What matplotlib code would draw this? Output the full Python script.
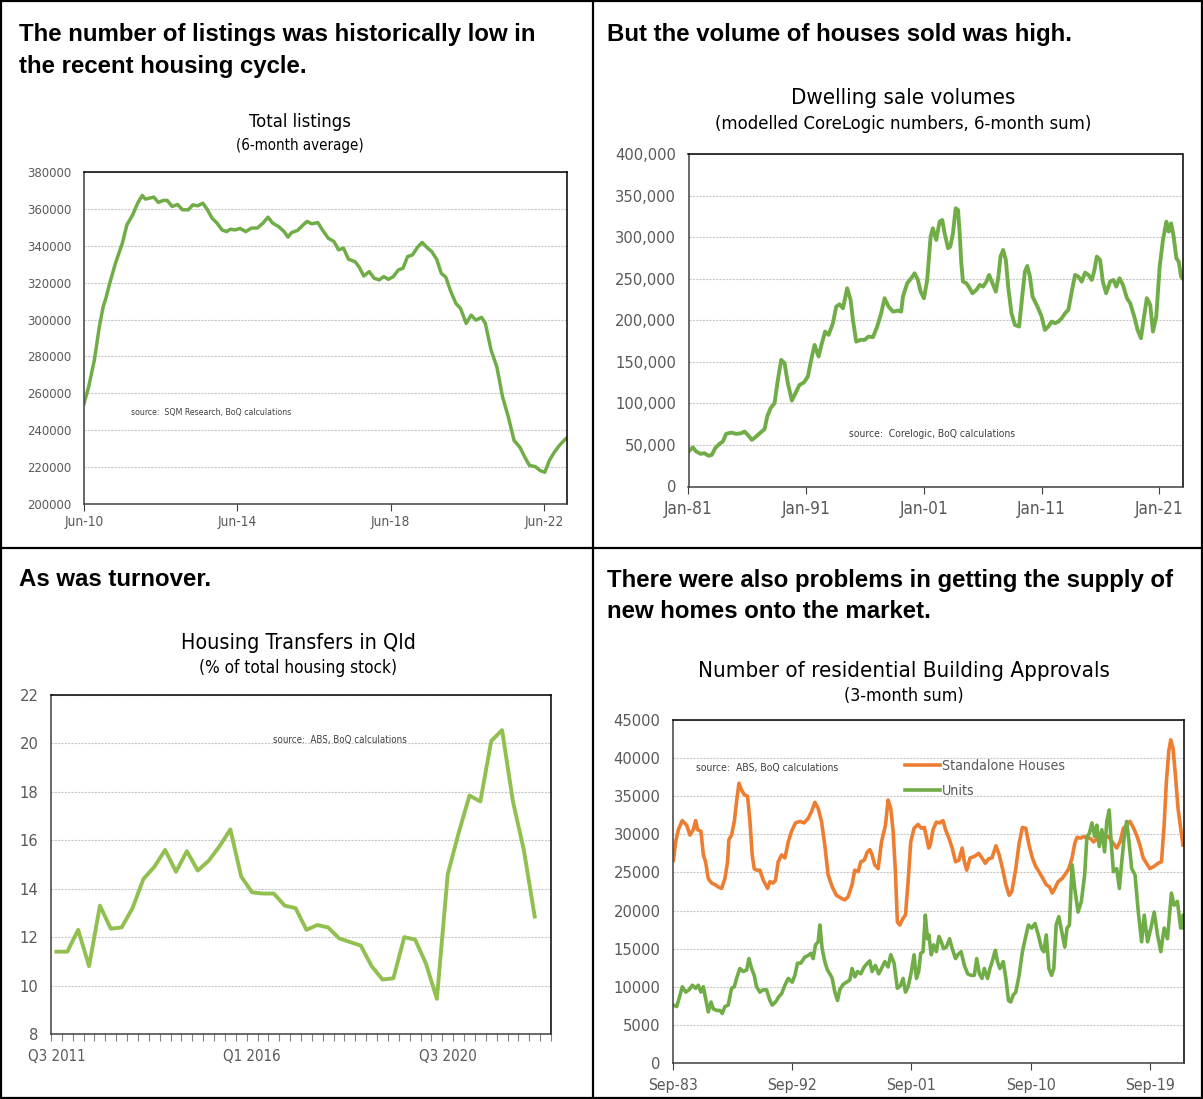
import matplotlib
matplotlib.use("Agg")
import matplotlib.pyplot as plt
from matplotlib.lines import Line2D
from matplotlib.patches import Rectangle
from matplotlib.ticker import FuncFormatter, MultipleLocator

W, H = 1203, 1099
NARROW = "DejaVu Sans"
BOLD = ["Liberation Sans", "DejaVu Sans"]
GREEN = "#70AD47"
LIGHT_GREEN = "#92C050"
ORANGE = "#ED7D31"
TICK_GREY = "#595959"
GRID_GREY = "#c8c8c8"

# --- Total listings (6-month average), decimal year
listings_year = [2010.42, 2010.54, 2010.69, 2010.82, 2010.92, 2010.99, 2011.09, 2011.24, 2011.42, 2011.54,
                 2011.69, 2011.82, 2011.94, 2012.02, 2012.14, 2012.24, 2012.36, 2012.49, 2012.59, 2012.72,
                 2012.86, 2012.99, 2013.14, 2013.26, 2013.39, 2013.52, 2013.64, 2013.76, 2013.89, 2014.02,
                 2014.14, 2014.24, 2014.36, 2014.49, 2014.64, 2014.79, 2014.94, 2015.09, 2015.22, 2015.34,
                 2015.49, 2015.64, 2015.74, 2015.84, 2015.99, 2016.14, 2016.24, 2016.36, 2016.52, 2016.64,
                 2016.79, 2016.94, 2017.06, 2017.19, 2017.32, 2017.49, 2017.59, 2017.72, 2017.86, 2017.99,
                 2018.12, 2018.24, 2018.36, 2018.49, 2018.62, 2018.74, 2018.86, 2018.99, 2019.12, 2019.24,
                 2019.36, 2019.49, 2019.62, 2019.74, 2019.86, 2019.99, 2020.12, 2020.24, 2020.39, 2020.52,
                 2020.64, 2020.79, 2020.89, 2021.04, 2021.19, 2021.34, 2021.49, 2021.64, 2021.79, 2021.92,
                 2022.04, 2022.19, 2022.32, 2022.44, 2022.56, 2022.69, 2022.82, 2022.94, 2023.02]
listings = [254400, 263400, 278000, 296100, 307000, 311500, 319600, 330500, 341400, 351400,
            356800, 363100, 367300, 365300, 365900, 366400, 363500, 364600, 364600, 361300,
            362400, 359500, 359500, 362200, 361700, 363100, 359500, 355000, 352300, 348600,
            347700, 349000, 348600, 349400, 347700, 349600, 349600, 352300, 355500, 352300,
            350500, 347700, 344700, 347200, 348300, 351400, 353200, 351900, 352600, 348600,
            344100, 342300, 337800, 338700, 332700, 331400, 328700, 323600, 326000, 322400,
            321500, 323300, 321800, 323300, 326900, 327800, 334100, 335100, 339200, 341800,
            339200, 336900, 332700, 325100, 322900, 315100, 308800, 306100, 297900, 302400,
            299700, 301200, 297900, 283400, 274300, 258000, 247100, 234400, 230800, 225400,
            220900, 220300, 218100, 217200, 223600, 228100, 231700, 234400, 235900]
listings_ticks = [2010.42, 2014.42, 2018.42, 2022.42]
listings_labels = ["Jun-10", "Jun-14", "Jun-18", "Jun-22"]

# --- Dwelling sale volumes (6-month sum)
sales_year = [1981.00, 1981.37, 1981.65, 1982.02, 1982.36, 1982.70, 1982.98, 1983.27, 1983.63, 1983.92,
              1984.20, 1984.63, 1985.05, 1985.48, 1985.76, 1986.04, 1986.38, 1986.75, 1987.12, 1987.46,
              1987.69, 1987.97, 1988.31, 1988.59, 1988.88, 1989.16, 1989.44, 1989.78, 1990.15, 1990.43,
              1990.80, 1991.14, 1991.42, 1991.71, 1992.05, 1992.33, 1992.61, 1992.90, 1993.27, 1993.55,
              1993.83, 1994.12, 1994.48, 1994.77, 1994.97, 1995.25, 1995.62, 1995.96, 1996.30, 1996.67,
              1997.03, 1997.37, 1997.66, 1998.00, 1998.37, 1998.79, 1999.07, 1999.22, 1999.58, 1999.92,
              2000.21, 2000.49, 2000.72, 2001.00, 2001.28, 2001.57, 2001.76, 2002.05, 2002.33,
              2002.56, 2002.76, 2003.05, 2003.24, 2003.47, 2003.70, 2003.90, 2004.04, 2004.18, 2004.32,
              2004.61, 2004.89, 2005.12, 2005.46, 2005.74, 2006.03, 2006.31, 2006.54, 2006.82, 2007.11,
              2007.31, 2007.51, 2007.73, 2007.96, 2008.16, 2008.44, 2008.73, 2009.09, 2009.38, 2009.58,
              2009.78, 2010.01, 2010.23, 2010.51, 2010.71, 2011.00, 2011.28, 2011.57, 2011.85, 2012.14,
              2012.42, 2012.71, 2012.99, 2013.27, 2013.56, 2013.84, 2014.13, 2014.41, 2014.69, 2014.98,
              2015.26, 2015.46, 2015.69, 2015.97, 2016.20, 2016.48, 2016.82, 2017.11, 2017.34, 2017.62,
              2017.91, 2018.25, 2018.53, 2018.87, 2019.15, 2019.44, 2019.66, 2019.94, 2020.23, 2020.46,
              2020.74, 2021.03, 2021.31, 2021.60, 2021.80, 2022.00, 2022.22, 2022.45, 2022.65, 2022.85, 2022.97]
sales = [42100, 46900, 42100, 39300, 40100, 36900, 38100, 46100, 51300, 54100,
         63300, 64900, 63300, 64100, 66100, 62100, 56100, 60100, 64900, 68900,
         84200, 94200, 100200, 128300, 152300, 148300, 124200, 103400, 114200, 122200,
         125100, 132300, 152300, 170300, 156300, 172300, 186400, 182400, 196400, 216400,
         219200, 214400, 238500, 224400, 200400, 174300, 176400, 176400, 180400, 179600,
         192400, 208400, 226500, 216400, 210400, 211600, 210400, 228500, 244500, 250500,
         256500, 248500, 234500, 226500, 248500, 300600, 310600, 296600, 318600,
         320600, 304600, 286600, 288600, 304600, 334700, 332700, 304600, 268500, 246500,
         244500, 238500, 232500, 236500, 242500, 240500, 246500, 254500, 244500, 234500,
         250500, 276600, 284600, 272500, 240500, 208400, 194400, 192400, 232500, 258500,
         265300, 252500, 228500, 220400, 214400, 204400, 188400, 192400, 198400, 196400,
         198400, 202400, 208400, 212400, 234500, 254500, 252500, 246500, 257300, 254500,
         248500, 258500, 276600, 272500, 246500, 232500, 246500, 248500, 240500, 250500,
         242500, 226500, 220400, 204400, 188400, 178400, 200400, 226500, 218400, 186400,
         204400, 264500, 296600, 318600, 306600, 316600, 300600, 274500, 270500, 252500, 250500]
sales_ticks = [1981, 1991, 2001, 2011, 2021]
sales_labels = ["Jan-81", "Jan-91", "Jan-01", "Jan-11", "Jan-21"]

# --- Housing transfers in Qld (% of housing stock), quarterly from Q3 2011
transfers = [11.4, 11.4, 12.3, 10.8, 13.3, 12.35, 12.4, 13.2, 14.4, 14.9,
             15.6, 14.7, 15.55, 14.75, 15.15, 15.75, 16.45, 14.5, 13.85, 13.8,
             13.8, 13.3, 13.2, 12.3, 12.5, 12.4, 11.95, 11.8, 11.65, 10.8,
             10.25, 10.3, 12.0, 11.9, 10.9, 9.45, 14.6, 16.3, 17.85, 17.6,
             20.1, 20.55, 17.6, 15.6, 12.85]
n_quarters = 46
quarter_labels = {0: "Q3 2011", 18: "Q1 2016", 36: "Q3 2020"}

# --- Residential building approvals (3-month sum)
house_year = [1983.70, 1983.87, 1984.07, 1984.37, 1984.70, 1984.95, 1985.20, 1985.38, 1985.53, 1985.78,
              1985.96, 1986.13, 1986.33, 1986.59, 1986.84, 1987.09, 1987.34, 1987.59, 1987.79, 1987.89,
              1988.09, 1988.30, 1988.47, 1988.65, 1988.85, 1989.05, 1989.30, 1989.48, 1989.65, 1989.80,
              1989.98, 1990.23, 1990.48, 1990.81, 1990.99, 1991.24, 1991.41, 1991.61, 1991.87, 1992.12,
              1992.37, 1992.62, 1992.92, 1993.25, 1993.57, 1993.88, 1994.13, 1994.38, 1994.63, 1994.88,
              1995.13, 1995.38, 1995.69, 1996.01, 1996.39, 1996.64, 1996.89, 1997.19, 1997.39, 1997.65,
              1997.85, 1998.10, 1998.35, 1998.53, 1998.70, 1998.90, 1999.16, 1999.41, 1999.71, 1999.91,
              2000.11, 2000.29, 2000.46, 2000.61, 2000.79, 2001.04, 2001.22, 2001.42, 2001.62, 2001.87,
              2002.17, 2002.42, 2002.65, 2002.80, 2002.98,
              2003.09, 2003.30, 2003.55, 2003.80, 2004.05, 2004.25, 2004.50, 2004.75, 2005.00, 2005.25,
              2005.50, 2005.67, 2005.85, 2006.10, 2006.42, 2006.75, 2007.00, 2007.25, 2007.50, 2007.75,
              2008.05, 2008.30, 2008.55, 2008.80, 2009.05, 2009.25, 2009.55, 2009.80, 2010.05, 2010.30,
              2010.55, 2010.80, 2011.05, 2011.30, 2011.60, 2011.85, 2012.10, 2012.30, 2012.50, 2012.75,
              2013.05, 2013.30, 2013.55, 2013.80, 2014.00, 2014.17, 2014.42, 2014.67, 2014.92, 2015.17,
              2015.42, 2015.80, 2016.17, 2016.55, 2016.92, 2017.17, 2017.42, 2017.67, 2017.92, 2018.17,
              2018.42, 2018.67, 2018.92, 2019.17, 2019.42, 2019.67, 2019.99, 2020.29, 2020.55, 2020.75,
              2020.92, 2021.10, 2021.25, 2021.42, 2021.60, 2021.80, 2022.00, 2022.17]
houses = [26600, 29000, 30600, 31800, 31200, 29900, 30600, 31800, 30600, 30400,
          27300, 26400, 24200, 23600, 23400, 23100, 22900, 24200, 26400, 29300,
          29900, 31700, 34300, 36700, 35800, 35200, 35000, 31700, 27300, 25500,
          25300, 25300, 24000, 22900, 23800, 23600, 24000, 26400, 27300, 26900,
          29000, 30400, 31500, 31700, 31500, 32100, 33000, 34200, 33400, 31700,
          28600, 24700, 23100, 22000, 21600, 21400, 21800, 23400, 25300, 25100,
          26400, 26600, 27700, 28000, 27300, 26000, 25500, 29000, 31200, 34500,
          33400, 30400, 25100, 18500, 18100, 19000, 19400, 23800, 29000, 30800,
          31300, 30800, 30900, 29700, 28200,
          28600, 30600, 31600, 31500, 31800, 30600, 29500, 28200, 26400, 26600,
          28200, 26400, 25300, 26900, 27100, 27500, 26900, 26200, 26800, 26900,
          28500, 27300, 25500, 23400, 22000, 22500, 25500, 28800, 30900, 30800,
          28600, 26900, 25800, 25100, 24200, 23400, 23100, 22300, 22900, 23800,
          24200, 24800, 25500, 26900, 28800, 29600, 29500, 29700, 29500, 29500,
          29000, 29600, 29500, 29700, 28800, 28200, 29000, 30800, 31200, 31700,
          30900, 29900, 28600, 26900, 26200, 25500, 25800, 26200, 26400, 31200,
          36900, 40900, 42400, 41300, 37800, 33400, 30800, 28600]
unit_year = [1983.70, 1983.95, 1984.20, 1984.37, 1984.63, 1984.88, 1985.13, 1985.38, 1985.58, 1985.78,
             1985.96, 1986.13, 1986.33, 1986.54, 1986.71, 1986.96, 1987.21, 1987.39, 1987.59, 1987.84,
             1988.09, 1988.30, 1988.47, 1988.72, 1988.97, 1989.23, 1989.40, 1989.60, 1989.80, 1989.98,
             1990.23, 1990.48, 1990.73, 1990.99, 1991.16, 1991.41, 1991.66, 1991.87, 1992.12, 1992.37,
             1992.67, 1992.87, 1993.07, 1993.32, 1993.62, 1993.88, 1994.08, 1994.25, 1994.43, 1994.63,
             1994.76, 1994.93, 1995.13, 1995.33, 1995.51, 1995.69, 1995.89, 1996.09, 1996.26, 1996.51,
             1996.77, 1997.02, 1997.19, 1997.40, 1997.60, 1997.85, 1998.10, 1998.35, 1998.53, 1998.70,
             1998.95, 1999.20, 1999.41, 1999.66, 1999.91, 2000.11, 2000.36, 2000.61, 2000.86, 2001.04,
             2001.22, 2001.42, 2001.67, 2001.87, 2002.05, 2002.22, 2002.37, 2002.55, 2002.72, 2002.88,
             2002.99, 2003.17, 2003.35, 2003.55, 2003.75, 2003.92, 2004.10, 2004.30, 2004.55, 2004.75,
             2005.00, 2005.17, 2005.42, 2005.67, 2005.92, 2006.17, 2006.42, 2006.60, 2006.80, 2007.00,
             2007.17, 2007.42, 2007.60, 2007.80, 2008.00, 2008.17, 2008.35, 2008.60, 2008.80, 2009.00,
             2009.17, 2009.35, 2009.55, 2009.80, 2010.05, 2010.30, 2010.50, 2010.75, 2011.00, 2011.25,
             2011.50, 2011.67, 2011.85, 2012.05, 2012.25, 2012.42, 2012.60, 2012.80, 2013.05, 2013.25,
             2013.42, 2013.60, 2013.80, 2014.00, 2014.25, 2014.50, 2014.75, 2014.92, 2015.10, 2015.30,
             2015.50, 2015.67, 2015.85, 2016.05, 2016.25, 2016.42, 2016.60, 2016.75, 2016.92, 2017.17,
             2017.37, 2017.55, 2017.75, 2017.92, 2018.10, 2018.30, 2018.55, 2018.80, 2019.05, 2019.25,
             2019.50, 2019.75, 2020.00, 2020.25, 2020.50, 2020.75, 2021.00, 2021.30, 2021.50, 2021.75,
             2022.00, 2022.17, 2022.25]
units = [7600, 7400, 8900, 10000, 9300, 9600, 10200, 9800, 10200, 9300,
         10000, 8500, 6700, 8000, 7100, 6900, 6900, 6500, 7400, 7600,
         9800, 10000, 11100, 12400, 12000, 12200, 13700, 12400, 11500, 10000,
         9300, 9600, 9600, 8200, 7600, 8000, 8700, 9100, 10200, 11100,
         10600, 11500, 13100, 13100, 13900, 14100, 14400, 13700, 15500, 15900,
         18100, 15000, 13300, 12200, 11700, 11100, 9300, 8200, 9600, 10300,
         10600, 10900, 12400, 11300, 12000, 11700, 12600, 13100, 13400, 12000,
         12800, 11700, 12400, 13300, 12600, 14200, 13100, 9800, 10200, 11100,
         9300, 10000, 12000, 14200, 11100, 12000, 14400, 14600, 19400, 16300,
         16800, 14200, 15500, 14600, 16600, 15900, 15000, 15200, 16300, 15000,
         13700, 14200, 14600, 12800, 11700, 11500, 11500, 13700, 11700, 11100,
         12400, 11100, 12400, 13500, 14800, 13300, 12400, 13300, 11100, 8200,
         8000, 8900, 9300, 11500, 14600, 16600, 18100, 17700, 18300, 16800,
         15000, 14600, 16800, 12400, 11500, 12400, 18100, 19200, 17000, 15200,
         17700, 18100, 26000, 22900, 19800, 21200, 24700, 29700, 30100, 31500,
         29700, 31200, 28400, 30600, 27700, 31700, 33200, 29000, 25100, 25500,
         22900, 26400, 29900, 31700, 29000, 25500, 24700, 19800, 15900, 19400,
         15900, 17700, 19800, 16800, 14600, 17700, 16300, 22300, 20700, 21200,
         17700, 19400, 17700]
approvals_ticks = [1983.67, 1992.67, 2001.67, 2010.67, 2019.67]
approvals_labels = ["Sep-83", "Sep-92", "Sep-01", "Sep-10", "Sep-19"]


def fx(px):
    return px / W


def fy(py):
    return 1 - py / H


def add_axes(fig, left, top, right, bottom):
    return fig.add_axes([fx(left), fy(bottom), (right - left) / W, (bottom - top) / H])


def style_axes(ax, ysize, xsize, ytick_step, xpad=3):
    ax.set_facecolor("white")
    for side in ["top", "right"]:
        ax.spines[side].set_color("black")
    for side in ["left", "bottom"]:
        ax.spines[side].set_color("#404040")
    for sp in ax.spines.values():
        sp.set_linewidth(1.1)
        sp.set_zorder(5)
    ax.yaxis.set_major_locator(MultipleLocator(ytick_step))
    ax.grid(axis="y", color=GRID_GREY, linestyle=(0, (2, 1)), linewidth=0.8)
    ax.set_axisbelow(True)
    ax.tick_params(axis="y", length=0, pad=9, labelsize=ysize, labelcolor=TICK_GREY)
    ax.tick_params(axis="x", length=5, width=0.8, color="#404040", pad=xpad,
                   labelsize=xsize, labelcolor=TICK_GREY)
    for lab in ax.get_xticklabels() + ax.get_yticklabels():
        lab.set_family(NARROW)
        lab.set_fontstretch("condensed")


def headline(fig, x, y, text):
    fig.text(fx(x), fy(y), text, family=BOLD, weight="bold", fontsize=17.3,
             ha="left", va="center")


def chart_title(fig, x, y1, y2, title, sub, size1, size2):
    fig.text(fx(x), fy(y1), title, family=NARROW, fontstretch="condensed",
             fontsize=size1, ha="center", va="center")
    fig.text(fx(x), fy(y2), sub, family=NARROW, fontstretch="condensed",
             fontsize=size2, ha="center", va="center")


def source(fig, x, y, text, size):
    fig.text(fx(x), fy(y), text, family=NARROW, fontstretch="condensed", fontsize=size,
             color="#404040", ha="left", va="center")


fig = plt.figure(figsize=(W / 100, H / 100), dpi=100)
fig.patch.set_facecolor("white")

# panel frames
fig.add_artist(Rectangle((0.001, 0.001), 0.998, 0.998, transform=fig.transFigure,
                         fill=False, edgecolor="black", linewidth=1.6))
fig.add_artist(Line2D([fx(593), fx(593)], [0, 1], color="black", linewidth=1.6))
fig.add_artist(Line2D([0, 1], [fy(548), fy(548)], color="black", linewidth=1.6))

# --- top left
headline(fig, 19, 35, "The number of listings was historically low in")
headline(fig, 19, 66, "the recent housing cycle.")
chart_title(fig, 300, 122, 145, "Total listings", "(6-month average)", 13.2, 10.8)
ax1 = add_axes(fig, 84, 172, 567, 504)
ax1.plot(listings_year, listings, color=GREEN, linewidth=2.5, solid_joinstyle="round")
ax1.set_xlim(2010.42, 2023.02)
ax1.set_ylim(200000, 380000)
ax1.set_xticks(listings_ticks)
ax1.set_xticklabels(listings_labels)
style_axes(ax1, 9.4, 9.8, 20000)
source(fig, 131, 413, "source:  SQM Research, BoQ calculations", 6.3)

# --- top right
headline(fig, 607, 35, "But the volume of houses sold was high.")
chart_title(fig, 903, 98, 124, "Dwelling sale volumes",
            "(modelled CoreLogic numbers, 6-month sum)", 16, 13.2)
ax2 = add_axes(fig, 688.5, 154, 1182.5, 486.5)
ax2.plot(sales_year, sales, color=GREEN, linewidth=2.8, solid_joinstyle="round")
ax2.set_xlim(1981.0, 2022.97)
ax2.set_ylim(0, 400000)
ax2.set_xticks(sales_ticks)
ax2.set_xticklabels(sales_labels)
ax2.yaxis.set_major_formatter(FuncFormatter(lambda v, p: f"{v:,.0f}"))
style_axes(ax2, 11.8, 12.3, 50000, xpad=5)
source(fig, 849, 434, "source:  Corelogic, BoQ calculations", 7.4)

# --- bottom left
headline(fig, 19, 580, "As was turnover.")
chart_title(fig, 298, 643, 668, "Housing Transfers in Qld", "(% of total housing stock)", 15.4, 12.3)
ax3 = add_axes(fig, 51, 695, 551, 1034)
ax3.plot(range(len(transfers)), transfers, color=LIGHT_GREEN, linewidth=2.8, solid_joinstyle="round")
ax3.set_xlim(-0.5, n_quarters - 0.5)
ax3.set_ylim(8, 22)
ax3.set_xticks([q - 0.5 for q in range(n_quarters + 1)], minor=True)
ax3.set_xticks(list(quarter_labels.keys()))
ax3.set_xticklabels(list(quarter_labels.values()))
style_axes(ax3, 11.8, 10.8, 2)
ax3.tick_params(axis="x", which="major", length=0, pad=11)
ax3.tick_params(axis="x", which="minor", length=5, width=0.8, color="#808080")
source(fig, 273, 740, "source:  ABS, BoQ calculations", 7)

# --- bottom right
headline(fig, 607, 580, "There were also problems in getting the supply of")
headline(fig, 607, 611, "new homes onto the market.")
chart_title(fig, 904, 671, 696, "Number of residential Building Approvals", "(3-month sum)", 16, 12.8)
ax4 = add_axes(fig, 673, 720, 1184, 1063)
ax4.plot(house_year, houses, color=ORANGE, linewidth=2.6, label="Standalone Houses",
         solid_joinstyle="round")
ax4.plot(unit_year, units, color=GREEN, linewidth=2.6, label="Units", solid_joinstyle="round")
ax4.set_xlim(1983.67, 2022.25)
ax4.set_ylim(0, 45000)
ax4.set_xticks(approvals_ticks)
ax4.set_xticklabels(approvals_labels)
style_axes(ax4, 11.8, 11.3, 5000, xpad=6)
leg = ax4.legend(loc="upper left", bbox_to_anchor=(0.454, 0.886), frameon=False,
                 handlelength=2.45, handletextpad=0.15, labelspacing=0.78,
                 borderpad=0, borderaxespad=0,
                 prop={"family": NARROW, "stretch": "condensed", "size": 10.2})
for t in leg.get_texts():
    t.set_color(TICK_GREY)
source(fig, 696, 768, "source:  ABS, BoQ calculations", 7.5)

fig.savefig("out.png", dpi=100, facecolor="white")
